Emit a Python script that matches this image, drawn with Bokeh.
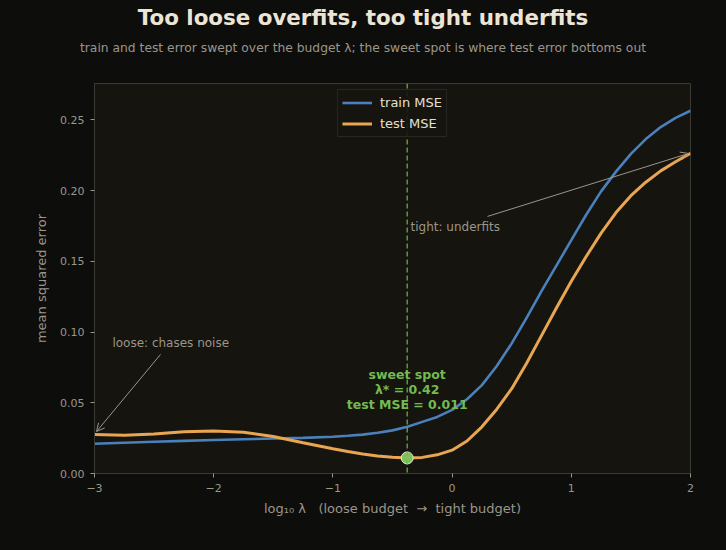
import numpy as np
from bokeh.plotting import figure
from bokeh.layouts import column
from bokeh.models import (ColumnDataSource, Span, Label, Arrow, OpenHead, Div,
                          FixedTicker, NumeralTickFormatter, Legend, LegendItem, Range1d)
from bokeh.embed import file_html
from bokeh.resources import INLINE

# ---- data ----
log_lambda = [-3.0, -2.75, -2.5, -2.25, -2.0, -1.75, -1.5, -1.25, -1.0, -0.875, -0.75,
              -0.625, -0.5, -0.375, -0.25, -0.125, 0.0, 0.125, 0.25, 0.375, 0.5, 0.625,
              0.75, 0.875, 1.0, 1.125, 1.25, 1.375, 1.5, 1.625, 1.75, 1.875, 2.0]
train_mse = [0.0210, 0.0217, 0.0224, 0.0231, 0.0237, 0.0242, 0.0247, 0.0252, 0.0260, 0.0267,
             0.0275, 0.0288, 0.0305, 0.0330, 0.0365, 0.0400, 0.0450, 0.0525, 0.0625, 0.0760,
             0.0920, 0.1100, 0.1290, 0.1470, 0.1650, 0.1830, 0.1995, 0.2135, 0.2260, 0.2365,
             0.2450, 0.2515, 0.2565]
test_mse = [0.0276, 0.0270, 0.0280, 0.0295, 0.0300, 0.0292, 0.0262, 0.0218, 0.0175, 0.0155,
            0.0138, 0.0124, 0.0115, 0.0110, 0.0114, 0.0132, 0.0165, 0.0230, 0.0330, 0.0455,
            0.0600, 0.0780, 0.0975, 0.1170, 0.1360, 0.1535, 0.1700, 0.1845, 0.1965, 0.2060,
            0.2140, 0.2205, 0.2265]
lambda_star = 0.42
best_test_mse = 0.011
x_ticks = [-3, -2, -1, 0, 1, 2]
y_ticks = [0.0, 0.05, 0.10, 0.15, 0.20, 0.25]

# ---- style ----
BG = "#0d0d0c"
PANEL = "#15140f"
SPINE = "#3b3a33"
MUTED = "#9b968a"
TITLE_C = "#ece5d6"
BLUE = "#4a80bb"
ORANGE = "#e8a552"
GREEN = "#74bb4f"
FONT = "DejaVu Sans"
NB = "\u00a0"

title_div = Div(text="Too loose overfits, too tight underfits", width=726, height=36, margin=0,
                styles={"font-family": FONT, "font-size": "21.4px", "font-weight": "bold",
                        "color": TITLE_C, "text-align": "center", "line-height": "36px",
                        "background-color": BG, "width": "726px", "height": "36px"})
sub_div = Div(text="train and test error swept over the budget \u03bb; the sweet spot is where test error bottoms out",
              width=726, height=24, margin=0,
              styles={"font-family": FONT, "font-size": "12.3px", "color": MUTED,
                      "text-align": "center", "line-height": "24px",
                      "background-color": BG, "width": "726px", "height": "24px"})

p = figure(width=726, height=490, output_backend="svg", toolbar_location=None,
           x_range=Range1d(-3, 2), y_range=Range1d(0, 0.2758),
           min_border_left=94, min_border_right=36, min_border_top=23, min_border_bottom=77)
p.background_fill_color = PANEL
p.border_fill_color = BG
p.outline_line_color = SPINE
p.outline_line_width = 1
p.xgrid.visible = False
p.ygrid.visible = False
p.title.text = ""

for ax in (p.xaxis[0], p.yaxis[0]):
    ax.axis_line_color = SPINE
    ax.major_tick_line_color = MUTED
    ax.major_tick_out = 4
    ax.major_tick_in = 0
    ax.minor_tick_line_color = None
    ax.major_label_text_color = MUTED
    ax.major_label_text_font = FONT
    ax.major_label_text_font_size = "11px"
    ax.axis_label_text_color = MUTED
    ax.axis_label_text_font = FONT
    ax.axis_label_text_font_size = "13px"
    ax.axis_label_text_font_style = "normal"

p.xaxis.ticker = FixedTicker(ticks=x_ticks)
p.xaxis.major_label_overrides = {t: (("\u2212" + str(abs(t))) if t < 0 else str(t)) for t in x_ticks}
p.yaxis.ticker = FixedTicker(ticks=y_ticks)
p.yaxis.formatter = NumeralTickFormatter(format="0.00")
p.xaxis.axis_label = ("log\u2081\u2080 \u03bb" + NB * 3 + "(loose budget" + NB * 2 + "\u2192"
                      + NB * 2 + "tight budget)")
p.yaxis.axis_label = "mean squared error"
p.xaxis.major_label_standoff = 6
p.xaxis.axis_label_standoff = 6
p.yaxis.major_label_standoff = 6
p.yaxis.axis_label_standoff = 8

src = ColumnDataSource(dict(x=log_lambda, train=train_mse, test=test_mse))
r_train = p.line("x", "train", source=src, line_color=BLUE, line_width=2.6)
r_test = p.line("x", "test", source=src, line_color=ORANGE, line_width=3)

x_star = float(np.log10(lambda_star))
p.add_layout(Span(location=x_star, dimension="height", line_color=GREEN,
                  line_dash="5 3", line_width=1.3, line_alpha=0.9))
p.scatter([x_star], [best_test_mse], size=12, fill_color="#7ec35a",
          line_color="#e8e8e0", line_width=1)

# sweet-spot labels
for i, t in enumerate(["sweet spot", "\u03bb* = %.2f" % lambda_star,
                       "test MSE = %.3f" % best_test_mse]):
    p.add_layout(Label(x=x_star, y=0.0488 + (2 - i) * 0.0106, text=t,
                       text_align="center", text_baseline="middle",
                       text_color=GREEN, text_font=FONT, text_font_size="12.5px",
                       text_font_style="bold"))

# annotations
p.add_layout(Label(x=-2.85, y=0.0926, text="loose: chases noise", text_align="left",
                   text_baseline="middle", text_color=MUTED, text_font=FONT,
                   text_font_size="12px"))
p.add_layout(Arrow(x_start=-2.446, y_start=0.0842, x_end=-2.983, y_end=0.0297,
                   line_color=MUTED, line_width=1,
                   end=OpenHead(size=8, line_color=MUTED, line_width=1)))
p.add_layout(Label(x=-0.349, y=0.174, text="tight: underfits", text_align="left",
                   text_baseline="middle", text_color=MUTED, text_font=FONT,
                   text_font_size="12px"))
p.add_layout(Arrow(x_start=0.297, y_start=0.1818, x_end=1.983, y_end=0.2263,
                   line_color=MUTED, line_width=1,
                   end=OpenHead(size=8, line_color=MUTED, line_width=1)))

legend = Legend(items=[LegendItem(label="train MSE", renderers=[r_train]),
                       LegendItem(label="test MSE", renderers=[r_test])],
                location="top_center", margin=6, padding=4, spacing=4,
                label_height=17, glyph_height=17,
                background_fill_color=PANEL, background_fill_alpha=0.9,
                border_line_color=SPINE, label_text_color="#e6e0d2",
                label_text_font=FONT, label_text_font_size="13px",
                glyph_width=30, label_standoff=8)
p.add_layout(legend, "center")

layout = column(title_div, sub_div, p, spacing=0,
                styles={"background-color": BG})
open("out.html", "w").write(file_html(layout, INLINE))
